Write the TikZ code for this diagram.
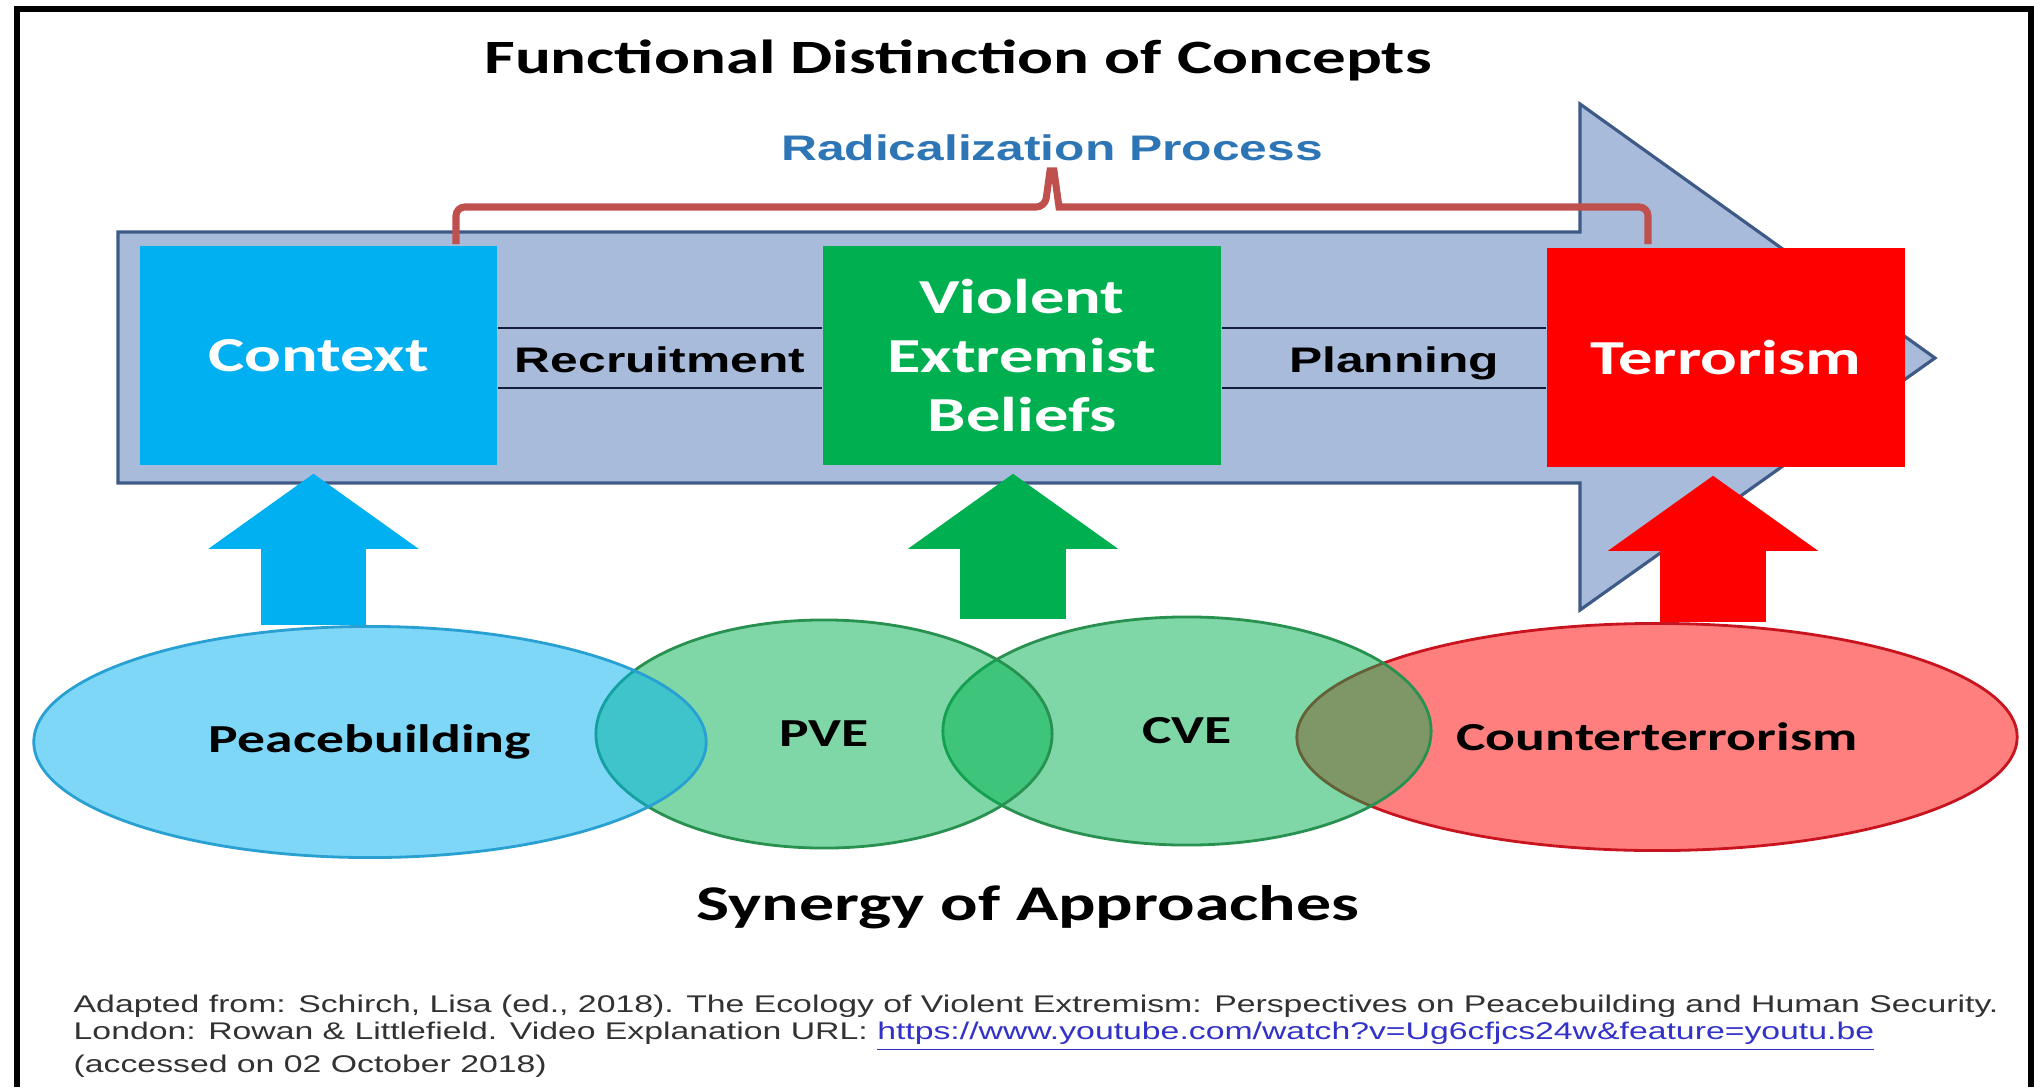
\documentclass[tikz,border=0pt]{standalone}
\usepackage{fontspec}
\usepackage{tikz}
\usetikzlibrary{arrows.meta,calc,shapes.geometric}
\newfontfamily\calib{Carlito}[FakeStretch=1.4]
\newfontfamily\arial{Liberation Sans}[FakeStretch=1.4]
\definecolor{bleu}{RGB}{0,176,240}
\definecolor{vert}{RGB}{0,176,80}
\definecolor{rouge}{RGB}{255,0,0}
\definecolor{acier}{RGB}{168,187,218}
\definecolor{ardoise}{RGB}{62,90,135}
\definecolor{brique}{RGB}{192,80,77}
\definecolor{bleutitre}{RGB}{46,117,182}
\definecolor{marine}{RGB}{20,30,60}
\definecolor{bord_b}{RGB}{40,160,210}
\definecolor{bord_v}{RGB}{40,145,80}
\definecolor{bord_r}{RGB}{200,20,30}
\definecolor{lien}{RGB}{50,50,200}
\definecolor{gristexte}{RGB}{50,50,50}
\tikzset{
  titre/.style = {inner sep=0pt, anchor=base,
    font=\calib\bfseries\fontsize{13.6}{16}\selectfont},% grands titres
  boite/.style = {rectangle, inner sep=0pt, align=center, text=white,
    font=\calib\bfseries\fontsize{13.9}{16.8}\selectfont, minimum height=2.19cm},% etape du processus
  boite_b/.style = {boite, fill=bleu, minimum width=3.57cm},% contexte
  boite_v/.style = {boite, fill=vert, minimum width=3.98cm},% croyances
  boite_r/.style = {boite, fill=rouge, minimum width=3.58cm},% terrorisme
  etiq/.style = {inner sep=0pt, anchor=base,
    font=\arial\bfseries\fontsize{10.1}{12}\selectfont},% texte entre les boites
  fond/.style = {fill=acier, draw=ardoise, line width=0.9pt},% grande fleche
  accolade/.style = {draw=brique, line width=2pt},% accolade
  lien_h/.style = {draw=marine, line width=0.6pt},% traits entre les boites
  fleche_h/.style = {line width=1.05cm, shorten >=0.08cm,
    -{Triangle[width=2.1cm, length=0.75cm, line width=0pt]}},% fleche vers le haut
  ens/.style = {ellipse, inner sep=0pt, fill opacity=.5, text opacity=1, line width=0.8pt,
    font=\calib\bfseries\fontsize{11.3}{13}\selectfont},% approche
  ens_b/.style = {ens, fill=bleu, draw=bord_b},% consolidation de la paix
  ens_v/.style = {ens, fill=vert, draw=bord_v},% PVE, CVE
  ens_r/.style = {ens, fill=rouge, draw=bord_r},% antiterrorisme
  note/.style = {inner sep=0pt, align=left, text=gristexte,
    font=\arial\fontsize{6.86}{7.8}\selectfont}% source
}

\begin{document}
\begin{tikzpicture}[x=0.01cm, y=-0.01cm]
\useasboundingbox (0,0) rectangle (2035,1087);
\draw [line width=1.5pt] (17,1087) -- (17,9) -- (2031,9) -- (2031,1087);

\node [titre] (titre) at (958,73) {Functional Distinction of Concepts};

% processus de radicalisation
\draw [fond] (118,232) -- (1580,232) -- (1580,104) -- (1935,358)
  -- (1580,610) -- (1580,483) -- (118,483) -- cycle;
\node [boite_b] (ctx) at (318.5,355.5) {Context};
\node [boite_v] (veb) at (1022,355.5) {Violent\\Extremist\\Beliefs};
\node [boite_r] (ter) at (1726,357.5) {Terrorism};
\draw [lien_h] (ctx.east |- 0,328) -- (veb.west |- 0,328);
\draw [lien_h] (ctx.east |- 0,388) -- (veb.west |- 0,388);
\draw [lien_h] (veb.east |- 0,328) -- (ter.west |- 0,328);
\draw [lien_h] (veb.east |- 0,388) -- (ter.west |- 0,388);
\node [etiq] (recr) at (660,372) {Recruitment};
\node [etiq] (plan) at (1394,372) {Planning};

\node [etiq, text=bleutitre] (radic) at (1052,160) {Radicalization Process};
\coordinate (acc_g) at (456,244);
\coordinate (acc_d) at (1648,244);
\draw [accolade] (acc_g) [rounded corners=2.5pt] |- (1045,207) [sharp corners]
  -- (1050,171) -- (1054,171) -- (1059,207) [rounded corners=2.5pt] -| (acc_d);

% approches
\node [ens_r, minimum width=7.2cm, minimum height=2.27cm] (ct) at (1657,737) {Counterterrorism};
\node [ens_v, minimum width=4.88cm, minimum height=2.28cm] (cve) at (1187,731) {CVE};
\node [ens_v, minimum width=4.56cm, minimum height=2.28cm] (pve) at (824,734) {PVE};
\node [ens_b, minimum width=6.72cm, minimum height=2.31cm] (pb) at (370,742) {Peacebuilding};

\draw [fleche_h, bleu] ($(ctx.south |- pb.north)+(-5,0)$) -- ($(ctx.south)+(-5,0)$);
\draw [fleche_h, vert] ($(veb.south |- pve.north)+(-9,0)$) -- ($(veb.south)+(-9,0)$);
\draw [fleche_h, rouge] ($(ter.south |- ct.north)+(-13,0)$) -- ($(ter.south)+(-13,0)$);

\node [titre, font=\calib\bfseries\fontsize{14.2}{16}\selectfont] (syn) at (1028,920) {Synergy of Approaches};

\node [note, anchor=north west] (src) at (73,994) {Adapted from: Schirch, Lisa (ed., 2018). The Ecology of Violent Extremism: Perspectives on Peacebuilding and Human Security.\\
London: Rowan \& Littlefield. Video Explanation URL: \textcolor{lien}{\underline{https://www.youtube.com/watch?v=Ug6cfjcs24w\&feature=youtu.be}}\\
(accessed on 02 October 2018)};
\end{tikzpicture}
\end{document}
